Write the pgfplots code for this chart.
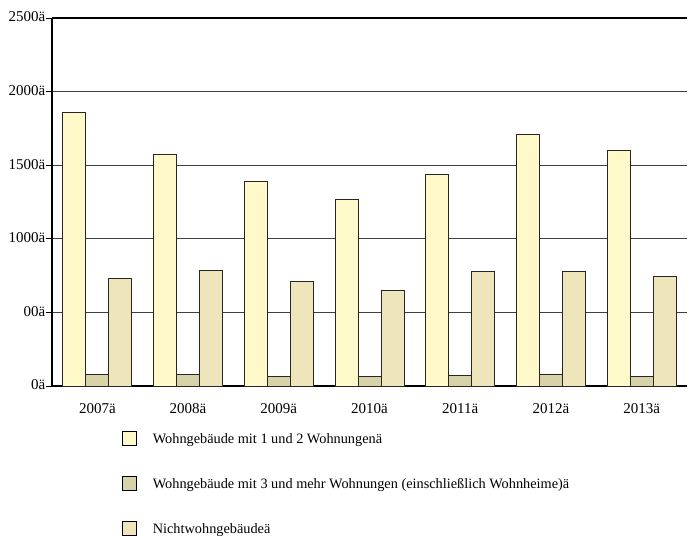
\documentclass[border=0pt]{standalone}
\usepackage{fontspec}
\setmainfont{Liberation Serif}
\usepackage{pgfplots}
\pgfplotsset{compat=1.18}
\definecolor{cA}{HTML}{FFF8C8}
\definecolor{cB}{HTML}{D8D2A8}
\definecolor{cC}{HTML}{EEE6BA}
\definecolor{gridc}{HTML}{404040}
\begin{document}
\fontsize{14.3}{17}\selectfont
\begin{tikzpicture}[x=1pt,y=1pt]
\useasboundingbox (-52,-149) rectangle (638,386);
\begin{axis}[
  scale only axis,
  width=635pt, height=368pt,
  at={(0,0)}, anchor=south west,
  xmin=-0.5, xmax=6.5,
  ymin=0, ymax=2500,
  axis x line*=box, axis y line*=left,
  axis line style={black, line width=1.6pt},
  ybar=0pt, bar width=23pt,
  xtick={0,1,2,3,4,5,6},
  xticklabels={2007ä,2008ä,2009ä,2010ä,2011ä,2012ä,2013ä},
  x tick style={draw=none},
  xticklabel style={yshift=-7pt, font=\fontsize{15}{17}\selectfont},
  ytick={0,500,1000,1500,2000,2500},
  yticklabels={0ä,00ä,1000ä,1500ä,2000ä,2500ä},
  y tick style={black, line width=0.8pt},
  tick align=outside, major tick length=6pt,
  yticklabel style={inner sep=0pt, xshift=-0.5pt, yshift=1pt, font=\fontsize{15}{17}\selectfont},
  ymajorgrids,
  grid style={draw=gridc, line width=0.8pt},
  legend style={at={(axis description cs:0.110,-0.122)}, anchor=north west,
    draw=none, fill=none, row sep=30pt, inner sep=0pt,
    font=\fontsize{14.3}{17}\selectfont,
    nodes={inner sep=0pt, text depth=0pt}},
  legend cell align=left,
  legend image code/.code={\draw[#1, draw=black, line width=0.8pt, bar shift=0pt] (0pt,-7pt) rectangle (14pt,7pt);},
  legend style={/tikz/every odd column/.style={column sep=16pt}},
]
\addplot[fill=cA, draw=black!85, line width=0.8pt] coordinates {(0,1860) (1,1571) (2,1390) (3,1270) (4,1440) (5,1710) (6,1603)};
\addplot[fill=cB, draw=black!85, line width=0.8pt] coordinates {(0,77) (1,77) (2,63) (3,63) (4,70) (5,82) (6,63)};
\addplot[fill=cC, draw=black!85, line width=0.8pt] coordinates {(0,732) (1,786) (2,713) (3,647) (4,777) (5,776) (6,747)};
\legend{Wohngebäude mit 1 und 2 Wohnungenä, Wohngebäude mit 3 und mehr Wohnungen (einschließlich Wohnheime)ä, Nichtwohngebäudeä}
\end{axis}
\end{tikzpicture}
\end{document}
